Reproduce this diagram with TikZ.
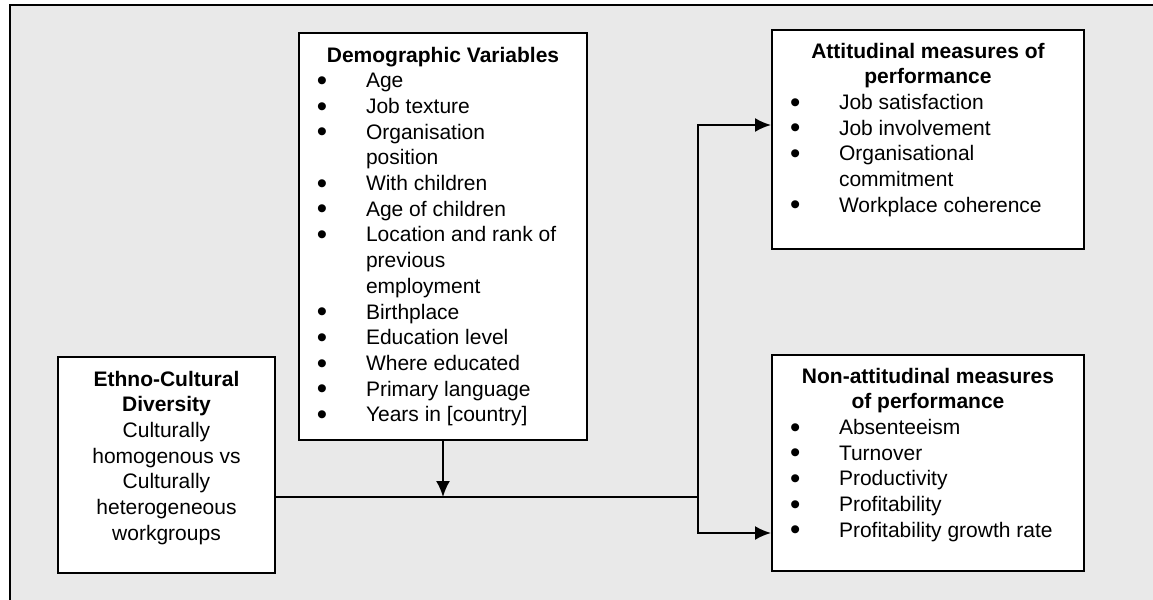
\documentclass[tikz,border=0pt]{standalone}
\usepackage{fontspec}
\usepackage{graphicx}
\setmainfont{Liberation Sans}
\usetikzlibrary{arrows.meta}
\definecolor{panel}{RGB}{233,233,233}
\newcommand\bul{\hspace*{9pt}\makebox[24.5pt][l]{\smash{\raisebox{-1.3pt}{\scalebox{1.4}{\textbullet}}}}}
\newcommand\entry[1]{\par\hangindent=33.5pt\hangafter=1\bul#1}
\tikzset{
  box/.style={draw, line width=1pt, fill=white, anchor=north west, inner sep=0pt,
    font=\fontsize{10.5}{12.85}\selectfont},
  arr/.style={line width=1pt, -{Latex[length=8pt,width=7pt]}}
}
\begin{document}
\begin{tikzpicture}[x=0.5pt,y=-0.5pt]
        \path[use as bounding box, fill=white] (0,0) rectangle (1153,600);
        \draw[line width=1pt, fill=panel] (10,5) rectangle (1180,640);
        \node[box] (demo) at (298,32) {\parbox[c][203.5pt][t]{144pt}{\raggedright
            {\centering\rule{0pt}{14.5pt}\textbf{Demographic Variables}\par}
            \entry{Age}
            \entry{Job texture}
            \entry{Organisation\newline position}
            \entry{With children}
            \entry{Age of children}
            \entry{Location and rank of\newline previous\newline employment}
            \entry{Birthplace}
            \entry{Education level}
            \entry{Where educated}
            \entry{Primary language}
            \entry{Years in [country]}}};
        \node[box] (ethno) at (57,356) {\parbox[c][108pt][t]{108.5pt}{
            {\centering\rule{0pt}{14.5pt}\textbf{Ethno-Cultural\\Diversity}\\Culturally\\
            homogenous vs\\Culturally\\heterogeneous\\workgroups\par}}};
        \node[box] (att) at (771,29) {\parbox[c][109.5pt][t]{156pt}{\raggedright
            {\centering\rule{0pt}{14pt}\textbf{Attitudinal measures of\\performance}\par}
            \entry{Job satisfaction}
            \entry{Job involvement}
            \entry{Organisational\newline commitment}
            \entry{Workplace coherence}}};
        \node[box] (nonatt) at (771,354) {\parbox[c][108pt][t]{156pt}{\raggedright
            {\centering\rule{0pt}{14pt}\textbf{Non-attitudinal measures\\of performance}\par}
            \entry{Absenteeism}
            \entry{Turnover}
            \entry{Productivity}
            \entry{Profitability}
            \entry{Profitability growth rate}}};
        \coordinate (join) at (698,497);
        \coordinate (up) at (698,125);
        \coordinate (low) at (698,533);
        \draw[line width=1pt] (ethno.east |- join) -- (join);
        \draw[arr] (demo.south) -- (demo.south |- join);
        \draw[arr] (join) -- (up) -- (att.west |- up);
        \draw[arr] (join) -- (low) -- (nonatt.west |- low);
    \end{tikzpicture}
\end{document}
